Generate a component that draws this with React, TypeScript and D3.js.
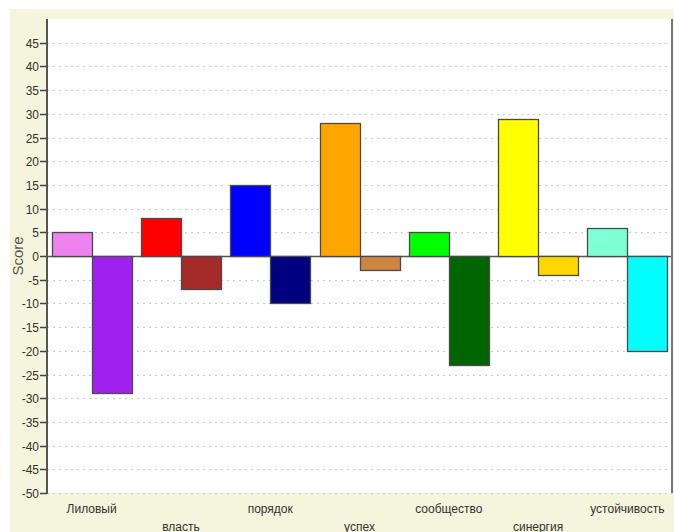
import React, { useEffect, useRef } from 'react';
import * as d3 from 'd3';

const categories = ['Лиловый', 'власть', 'порядок', 'успех', 'сообщество', 'синергия', 'устойчивость'];
const firstValues = [5, 8, 15, 28, 5, 29, 6];
const secondValues = [-29, -7, -10, -3, -23, -4, -20];
const firstColors = ['#ee82ee', '#ff0000', '#0000ff', '#ffa500', '#00ff00', '#ffff00', '#7fffd4'];
const secondColors = ['#a020f0', '#a52a2a', '#000080', '#cd853f', '#006400', '#ffd700', '#00ffff'];
const yTicks = d3.range(-50, 50, 5);

const App = () => {
  const svgRef = useRef<SVGSVGElement>(null);

  useEffect(() => {
    const width = 674;
    const height = 532;
    const left = 47;
    const right = 672;
    const top = 19;
    const bottom = 493;
    const font = '"Liberation Sans", Arial, sans-serif';

    d3.select(svgRef.current).selectAll('*').remove();
    const svg = d3.select(svgRef.current).attr('width', width).attr('height', height);

    // background
    svg.append('rect').attr('x', 10).attr('y', 9).attr('width', width - 10).attr('height', height - 9).attr('fill', '#f5f4dc');
    svg.append('rect').attr('x', left).attr('y', top).attr('width', right - left).attr('height', bottom - top).attr('fill', '#fff');

    const y = d3.scaleLinear().domain([-50, 50]).range([bottom, top]);
    const x = d3.scaleBand<string>().domain(categories).range([left, right]).paddingInner(0.104).paddingOuter(0.052);
    const sub = d3.scaleBand<number>().domain([0, 1]).range([0, x.bandwidth()]);

    // grid
    svg
      .append('g')
      .selectAll('line')
      .data(yTicks)
      .join('line')
      .attr('x1', left)
      .attr('x2', right)
      .attr('y1', (d) => Math.round(y(d)) + 0.5)
      .attr('y2', (d) => Math.round(y(d)) + 0.5)
      .attr('stroke', '#c8c8c8')
      .attr('stroke-dasharray', '2,4');

    const bars = categories.flatMap((c, i) => [
      { c, k: 0, v: firstValues[i], color: firstColors[i] },
      { c, k: 1, v: secondValues[i], color: secondColors[i] },
    ]);

    // zero line
    svg
      .append('line')
      .attr('x1', left)
      .attr('x2', right)
      .attr('y1', Math.round(y(0)) + 0.5)
      .attr('y2', Math.round(y(0)) + 0.5)
      .attr('stroke', '#555')
      .attr('stroke-width', 1.5);

    svg
      .append('g')
      .selectAll('rect')
      .data(bars)
      .join('rect')
      .attr('x', (d) => Math.round(x(d.c)! + sub(d.k)!) + 0.5)
      .attr('y', (d) => Math.round(y(Math.max(0, d.v))) + 0.5)
      .attr('width', (d) => Math.round(sub.bandwidth()))
      .attr('height', (d) => Math.round(Math.abs(y(d.v) - y(0))))
      .attr('fill', (d) => d.color)
      .attr('stroke', '#4a4a4a')
      .attr('stroke-width', 1.3);

    // axis lines
    svg.append('line').attr('x1', left).attr('x2', left).attr('y1', top).attr('y2', bottom + 1).attr('stroke', '#555').attr('stroke-width', 2);
    svg.append('line').attr('x1', right).attr('x2', right).attr('y1', top).attr('y2', bottom).attr('stroke', '#777').attr('stroke-width', 2);

    // y ticks
    const ticks = svg.append('g').selectAll('g').data(yTicks).join('g').attr('transform', (d) => `translate(0,${Math.round(y(d)) + 0.5})`);
    ticks.append('line').attr('x1', 40).attr('x2', left).attr('stroke', '#444').attr('stroke-width', 1.5);
    ticks
      .append('text')
      .attr('x', 39)
      .attr('dy', '0.35em')
      .attr('text-anchor', 'end')
      .attr('font-family', font)
      .attr('font-size', 12)
      .attr('fill', '#333')
      .text((d) => d);

    svg
      .append('text')
      .attr('transform', `translate(23,${(top + bottom) / 2}) rotate(-90)`)
      .attr('text-anchor', 'middle')
      .attr('font-family', font)
      .attr('font-size', 15)
      .attr('fill', '#555')
      .text('Score');

    // category labels, alternating rows
    svg
      .append('g')
      .selectAll('text')
      .data(categories)
      .join('text')
      .attr('x', (d) => x(d)! + x.bandwidth() / 2)
      .attr('y', (d, i) => (i % 2 === 0 ? 513 : 531))
      .attr('text-anchor', 'middle')
      .attr('font-family', font)
      .attr('font-size', 12)
      .attr('fill', '#333')
      .text((d) => d);
  }, []);

  return <svg ref={svgRef} style={{ position: 'absolute', left: 0, top: 0 }}></svg>;
};

export default App;
